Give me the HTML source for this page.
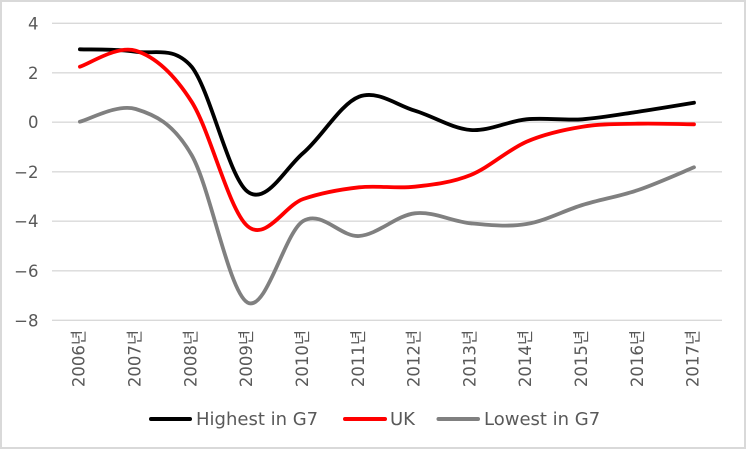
<!DOCTYPE html>
<html>
<head>
<meta charset="utf-8">
<style>
  html, body { margin: 0; padding: 0; background: #ffffff; }
  body { width: 746px; height: 449px; overflow: hidden; }
  svg { display: block; }
  .yl { font-family: "DejaVu Sans", "Liberation Sans", sans-serif; font-size: 16.5px; fill: #595959; }
  .xl { font-family: "DejaVu Sans", "Liberation Sans", "Noto Sans CJK KR", sans-serif; font-size: 16.5px; fill: #595959; }
  .lg { font-family: "DejaVu Sans", "Liberation Sans", sans-serif; font-size: 18px; fill: #595959; }
</style>
</head>
<body>
<svg width="746" height="449" viewBox="0 0 746 449" xmlns="http://www.w3.org/2000/svg">
  <rect x="0" y="0" width="746" height="449" fill="#ffffff"/>
  <rect x="1" y="1" width="744" height="447" fill="none" stroke="#d9d9d9" stroke-width="2"/>

  <!-- gridlines -->
  <g stroke="#d9d9d9" stroke-width="1.3">
    <line x1="52" y1="23.3" x2="722" y2="23.3"/>
    <line x1="52" y1="72.8" x2="722" y2="72.8"/>
    <line x1="52" y1="122.2" x2="722" y2="122.2"/>
    <line x1="52" y1="171.8" x2="722" y2="171.8"/>
    <line x1="52" y1="221.2" x2="722" y2="221.2"/>
    <line x1="52" y1="270.8" x2="722" y2="270.8"/>
    <line x1="52" y1="320.3" x2="722" y2="320.3"/>
  </g>

  <!-- y labels -->
  <g class="yl" text-anchor="end">
    <text x="38.5" y="29.3">4</text>
    <text x="38.5" y="78.8">2</text>
    <text x="38.5" y="128.2">0</text>
    <text x="38.5" y="177.8">−2</text>
    <text x="38.5" y="227.2">−4</text>
    <text x="38.5" y="276.8">−6</text>
    <text x="38.5" y="326.3">−8</text>
  </g>

  <!-- x labels -->
  <g class="xl" text-anchor="end">
    <text transform="translate(84.6,330) rotate(-90)">2006년</text>
    <text transform="translate(140.4,330) rotate(-90)">2007년</text>
    <text transform="translate(196.3,330) rotate(-90)">2008년</text>
    <text transform="translate(252.1,330) rotate(-90)">2009년</text>
    <text transform="translate(307.9,330) rotate(-90)">2010년</text>
    <text transform="translate(363.8,330) rotate(-90)">2011년</text>
    <text transform="translate(419.6,330) rotate(-90)">2012년</text>
    <text transform="translate(475.4,330) rotate(-90)">2013년</text>
    <text transform="translate(531.2,330) rotate(-90)">2014년</text>
    <text transform="translate(587.1,330) rotate(-90)">2015년</text>
    <text transform="translate(642.9,330) rotate(-90)">2016년</text>
    <text transform="translate(698.7,330) rotate(-90)">2017년</text>
  </g>

  <!-- series -->
  <g fill="none" stroke-width="3.8" stroke-linecap="round" stroke-linejoin="round">
    <path stroke="#000000" d="M79.9,49.3 C89.2,49.7 117.1,48.8 135.7,51.7 C154.3,54.6 173,45.4 191.6,66.7 C210.2,90 228.8,177.1 247.4,191.5 C266,205.9 284.6,168.8 303.2,153 C321.8,137.2 340.5,103.8 359.1,96.7 C377.7,89.7 396.3,105.2 414.9,110.7 C433.5,116.3 452.1,128.6 470.7,130 C489.3,131.4 507.9,121.1 526.5,119.3 C545.1,117.5 563.8,120.6 582.4,119.3 C601,118 619.6,114.5 638.2,111.7 C656.8,108.9 684.7,104.2 694,102.7"/>
    <path stroke="#ff0000" d="M79.9,66.7 C89.2,64 117.1,44.9 135.7,50.7 C154.3,56.5 173,72.5 191.6,101.7 C210.2,130.9 228.8,209.8 247.4,226 C266,242.2 284.6,205.5 303.2,199 C321.8,192.6 340.5,189.4 359.1,187.3 C377.7,185.3 396.3,188.8 414.9,186.7 C433.5,184.7 452.1,182.5 470.7,175 C489.3,167.5 507.9,149.8 526.5,141.7 C545.1,133.7 563.8,129.7 582.4,126.7 C601,123.7 619.6,124.1 638.2,123.7 C656.8,123.3 684.7,124.2 694,124.3"/>
    <path stroke="#808080" d="M79.9,121.7 C89.2,119.6 117.1,103.5 135.7,109 C154.3,114.6 173,122.8 191.6,155 C210.2,187.3 228.8,291.5 247.4,302.5 C266,313.5 284.6,232.1 303.2,221 C321.8,209.9 340.5,237.3 359.1,236 C377.7,234.7 396.3,215.4 414.9,213.3 C433.5,211.2 452.1,221.5 470.7,223.3 C489.3,225.1 507.9,227.1 526.5,224 C545.1,221 563.8,210.7 582.4,205 C601,199.3 619.6,196.3 638.2,190 C656.8,183.7 684.7,171.1 694,167.3"/>
  </g>

  <!-- legend -->
  <g stroke-width="4" stroke-linecap="round">
    <line x1="151" y1="419" x2="190" y2="419" stroke="#000000"/>
    <line x1="345" y1="419" x2="385" y2="419" stroke="#ff0000"/>
    <line x1="438.5" y1="419" x2="478" y2="419" stroke="#808080"/>
  </g>
  <g class="lg">
    <text x="196" y="425">Highest in G7</text>
    <text x="390" y="425">UK</text>
    <text x="484" y="425">Lowest in G7</text>
  </g>
</svg>
</body>
</html>
